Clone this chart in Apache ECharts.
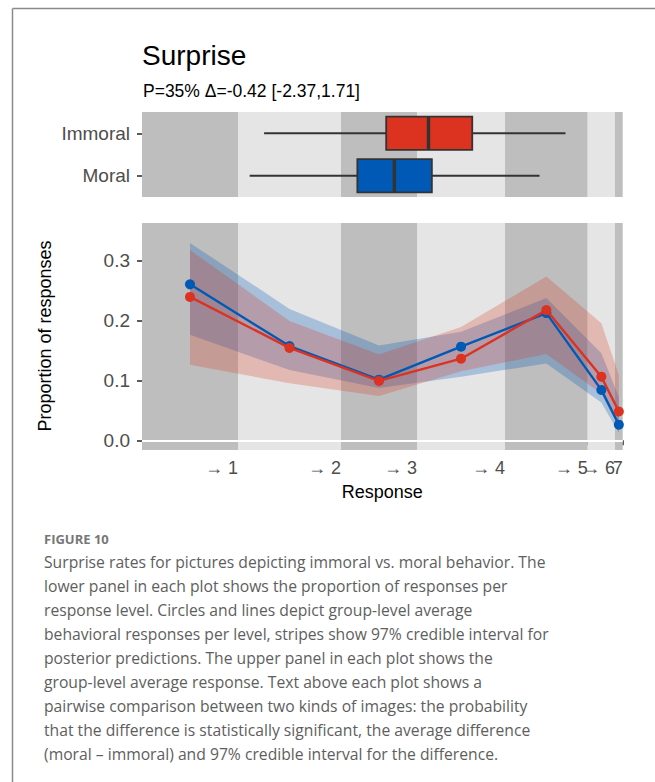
<!DOCTYPE html>
<html>
<head>
<meta charset="utf-8">
<script src="https://cdn.jsdelivr.net/npm/echarts@6/dist/echarts.min.js"></script>
<style>
  html, body { margin: 0; padding: 0; background: #ffffff; }
  #chart { width: 655px; height: 782px; }
</style>
</head>
<body>
<div id="chart"></div>
<script>
// ---- data ----
const groups = ['Moral', 'Immoral'];
// right edge of each response level on the cumulative x scale (0-100)
const thresholds = [19.97, 41.40, 57.21, 75.52, 92.72, 98.40, 100];
const tickLabels = ['\u2192 1', '\u2192 2', '\u2192 3', '\u2192 4', '\u2192 5', '\u2192 6', '7'];
const moralMean   = [0.260, 0.157, 0.101, 0.156, 0.212, 0.084, 0.026];
const immoralMean = [0.239, 0.154, 0.099, 0.136, 0.217, 0.106, 0.048];
const moralLow    = [0.176, 0.117, 0.087, 0.106, 0.128, 0.063, 0.012];
const moralHigh   = [0.329, 0.219, 0.158, 0.181, 0.237, 0.145, 0.072];
const immoralLow  = [0.126, 0.095, 0.074, 0.115, 0.144, 0.078, 0.024];
const immoralHigh = [0.317, 0.199, 0.143, 0.189, 0.273, 0.195, 0.109];
// box: [whisker low, q1, median, q3, whisker high] on the same x scale
const moralBox   = [22.4, 44.8, 52.5, 60.3, 82.7];
const immoralBox = [25.4, 50.8, 59.6, 68.7, 88.1];
const yTicks = [0, 0.1, 0.2, 0.3];

const captionLines = [
  'Surprise rates for pictures depicting immoral vs. moral behavior. The',
  'lower panel in each plot shows the proportion of responses per',
  'response level. Circles and lines depict group-level average',
  'behavioral responses per level, stripes show 97% credible interval for',
  'posterior predictions. The upper panel in each plot shows the',
  'group-level average response. Text above each plot shows a',
  'pairwise comparison between two kinds of images: the probability',
  'that the difference is statistically significant, the average difference',
  '(moral \u2013 immoral) and 97% credible interval for the difference.'
];

// ---- derived ----
const RED = '#DC3220', BLUE = '#005AB5';
const edges = [0].concat(thresholds);
const bandData = thresholds.map((t, i) => [edges[i], t, i]);
const mids = thresholds.map((t, i) => (edges[i] + t) / 2);
// labels split over two overlaid axes so the crowded "→ 6" is not auto-hidden
const labelValsA = thresholds.filter((t, i) => i !== 5);
const labelValsB = [thresholds[5]];

const chart = echarts.init(document.getElementById('chart'), null, { renderer: 'svg' });

function bgRender(params, api) {
  const cs = params.coordSys;
  const x0 = api.coord([api.value(0), 0])[0];
  const x1 = api.coord([api.value(1), 0])[0];
  return {
    type: 'rect',
    shape: { x: x0, y: cs.y, width: x1 - x0, height: cs.height },
    style: { fill: api.value(2) % 2 === 0 ? '#BEBEBE' : '#E5E5E5' }
  };
}

function boxRender(params, api) {
  const cat = api.value(0);
  const xs = [1, 2, 3, 4, 5].map(d => api.coord([api.value(d), cat])[0]);
  const yc = api.coord([api.value(1), cat])[1];
  const h = api.size([0, 1])[1] * 0.39;
  const fill = cat === 0 ? BLUE : RED;
  return {
    type: 'group',
    children: [
      { type: 'line', shape: { x1: xs[0], y1: yc, x2: xs[1], y2: yc }, style: { stroke: '#333333', lineWidth: 2 } },
      { type: 'line', shape: { x1: xs[3], y1: yc, x2: xs[4], y2: yc }, style: { stroke: '#333333', lineWidth: 2 } },
      { type: 'rect', shape: { x: xs[1], y: yc - h, width: xs[3] - xs[1], height: 2 * h }, style: { fill: fill, stroke: '#333333', lineWidth: 1.8 } },
      { type: 'line', shape: { x1: xs[2], y1: yc - h, x2: xs[2], y2: yc + h }, style: { stroke: '#333333', lineWidth: 3.4 } }
    ]
  };
}

function ciRender(lows, highs, color) {
  return function (params, api) {
    if (params.dataIndex !== 0) return null;
    const pts = [];
    for (let i = 0; i < mids.length; i++) pts.push(api.coord([mids[i], highs[i]]));
    for (let i = mids.length - 1; i >= 0; i--) pts.push(api.coord([mids[i], lows[i]]));
    return { type: 'polygon', shape: { points: pts }, style: { fill: color } };
  };
}

function labelFor(v) {
  let best = 0;
  thresholds.forEach((t, i) => { if (Math.abs(t - v) < Math.abs(thresholds[best] - v)) best = i; });
  return tickLabels[best];
}

const axisTextColor = '#4D4D4D';
const tickStyle = { show: true, length: 5, lineStyle: { color: '#333333', width: 1.6 } };
const xLabelBase = {
  align: 'right', margin: 9, hideOverlap: false, showMinLabel: true, showMaxLabel: true,
  fontFamily: 'Liberation Sans', fontSize: 18, color: axisTextColor, formatter: labelFor
};

const option = {
  animation: false,
  backgroundColor: '#ffffff',
  grid: [
    { left: 142, top: 112, width: 480.7, height: 85 },
    { left: 142, top: 223, width: 480.7, height: 227 },
    { left: 142, top: 223, width: 480.7, height: 227 }
  ],
  xAxis: [
    { type: 'value', gridIndex: 0, min: 0, max: 100, show: false, splitLine: { show: false } },
    {
      type: 'value', gridIndex: 1, min: 0, max: 100,
      axisLine: { show: false },
      splitLine: { show: false },
      axisTick: Object.assign({ customValues: thresholds }, tickStyle),
      axisLabel: Object.assign({ customValues: labelValsA }, xLabelBase),
      name: 'Response',
      nameLocation: 'middle',
      nameGap: 33,
      nameTextStyle: { fontFamily: 'Liberation Sans', fontSize: 18, color: '#000000' }
    },
    {
      type: 'value', gridIndex: 2, min: 0, max: 100, position: 'bottom',
      axisLine: { show: false },
      splitLine: { show: false },
      axisTick: { show: false },
      axisLabel: Object.assign({ customValues: labelValsB }, xLabelBase)
    }
  ],
  yAxis: [
    {
      type: 'category', gridIndex: 0, data: groups,
      axisLine: { show: false },
      axisTick: Object.assign({ alignWithLabel: true }, tickStyle),
      axisLabel: { margin: 12, fontFamily: 'Liberation Sans', fontSize: 19, color: axisTextColor },
      splitLine: { show: false }
    },
    {
      type: 'value', gridIndex: 1, min: -0.0162, max: 0.3622,
      axisLine: { show: false },
      splitLine: { show: false },
      axisTick: Object.assign({ customValues: yTicks }, tickStyle),
      axisLabel: {
        customValues: yTicks,
        margin: 12,
        fontFamily: 'Liberation Sans', fontSize: 19, color: axisTextColor,
        formatter: v => v.toFixed(1)
      }
    },
    { type: 'value', gridIndex: 2, min: -0.0162, max: 0.3622, show: false, splitLine: { show: false } }
  ],
  series: [
    {
      type: 'custom', xAxisIndex: 0, yAxisIndex: 0, z: 1, silent: true,
      data: bandData, encode: { x: [0, 1] }, renderItem: bgRender
    },
    {
      type: 'custom', xAxisIndex: 0, yAxisIndex: 0, z: 3, silent: true,
      data: [[0].concat(moralBox), [1].concat(immoralBox)],
      encode: { x: [1, 2, 3, 4, 5], y: 0 },
      renderItem: boxRender
    },
    {
      type: 'custom', xAxisIndex: 1, yAxisIndex: 1, z: 1, silent: true,
      data: bandData, encode: { x: [0, 1] }, renderItem: bgRender,
      markLine: {
        silent: true, symbol: 'none', label: { show: false },
        lineStyle: { color: '#ffffff', width: 2, type: 'solid' },
        data: [{ yAxis: 0 }]
      }
    },
    {
      type: 'custom', xAxisIndex: 1, yAxisIndex: 1, z: 2, silent: true,
      data: mids.map((m, i) => [m, moralLow[i], moralHigh[i]]),
      encode: { x: 0, y: [1, 2] },
      renderItem: ciRender(moralLow, moralHigh, 'rgba(0,90,181,0.27)')
    },
    {
      type: 'custom', xAxisIndex: 1, yAxisIndex: 1, z: 2, silent: true,
      data: mids.map((m, i) => [m, immoralLow[i], immoralHigh[i]]),
      encode: { x: 0, y: [1, 2] },
      renderItem: ciRender(immoralLow, immoralHigh, 'rgba(220,50,32,0.25)')
    },
    {
      type: 'line', name: 'Moral', xAxisIndex: 1, yAxisIndex: 1, z: 4,
      data: mids.map((m, i) => [m, moralMean[i]]),
      symbol: 'circle', symbolSize: 10, showSymbol: true,
      lineStyle: { color: BLUE, width: 2.4 }, itemStyle: { color: BLUE }
    },
    {
      type: 'line', name: 'Immoral', xAxisIndex: 1, yAxisIndex: 1, z: 5,
      data: mids.map((m, i) => [m, immoralMean[i]]),
      symbol: 'circle', symbolSize: 10, showSymbol: true,
      lineStyle: { color: RED, width: 2.4 }, itemStyle: { color: RED }
    }
  ],
  graphic: [
    { type: 'line', shape: { x1: 12.5, y1: 8.5, x2: 655, y2: 8.5 }, style: { stroke: '#8a8a8a', lineWidth: 1.5 } },
    { type: 'line', shape: { x1: 12.5, y1: 8.5, x2: 12.5, y2: 782 }, style: { stroke: '#8a8a8a', lineWidth: 1.5 } },
    { type: 'text', x: 142, y: 55, style: { text: 'Surprise', fontFamily: 'Liberation Sans', fontSize: 28, fill: '#000000', textVerticalAlign: 'middle' } },
    { type: 'text', x: 143, y: 91, style: { text: 'P=35% \u0394=-0.42 [-2.37,1.71]', fontFamily: 'Liberation Sans', fontSize: 17.5, fill: '#000000', textVerticalAlign: 'middle' } },
    { type: 'text', x: 45, y: 336, rotation: Math.PI / 2, style: { text: 'Proportion of responses', fontFamily: 'Liberation Sans', fontSize: 18, fill: '#000000', textAlign: 'center', textVerticalAlign: 'middle' } },
    { type: 'text', x: 44, y: 539, style: { text: 'FIGURE 10', fontFamily: 'Open Sans', fontWeight: 'bold', fontSize: 13, fill: '#777777', textVerticalAlign: 'middle' } },
    { type: 'text', x: 44, y: 550, style: { text: captionLines.join('\n'), fontFamily: 'Open Sans', fontSize: 15.7, lineHeight: 24, fill: '#5e5e5e', textVerticalAlign: 'top' } }
  ]
};
chart.setOption(option);
</script>
</body>
</html>
